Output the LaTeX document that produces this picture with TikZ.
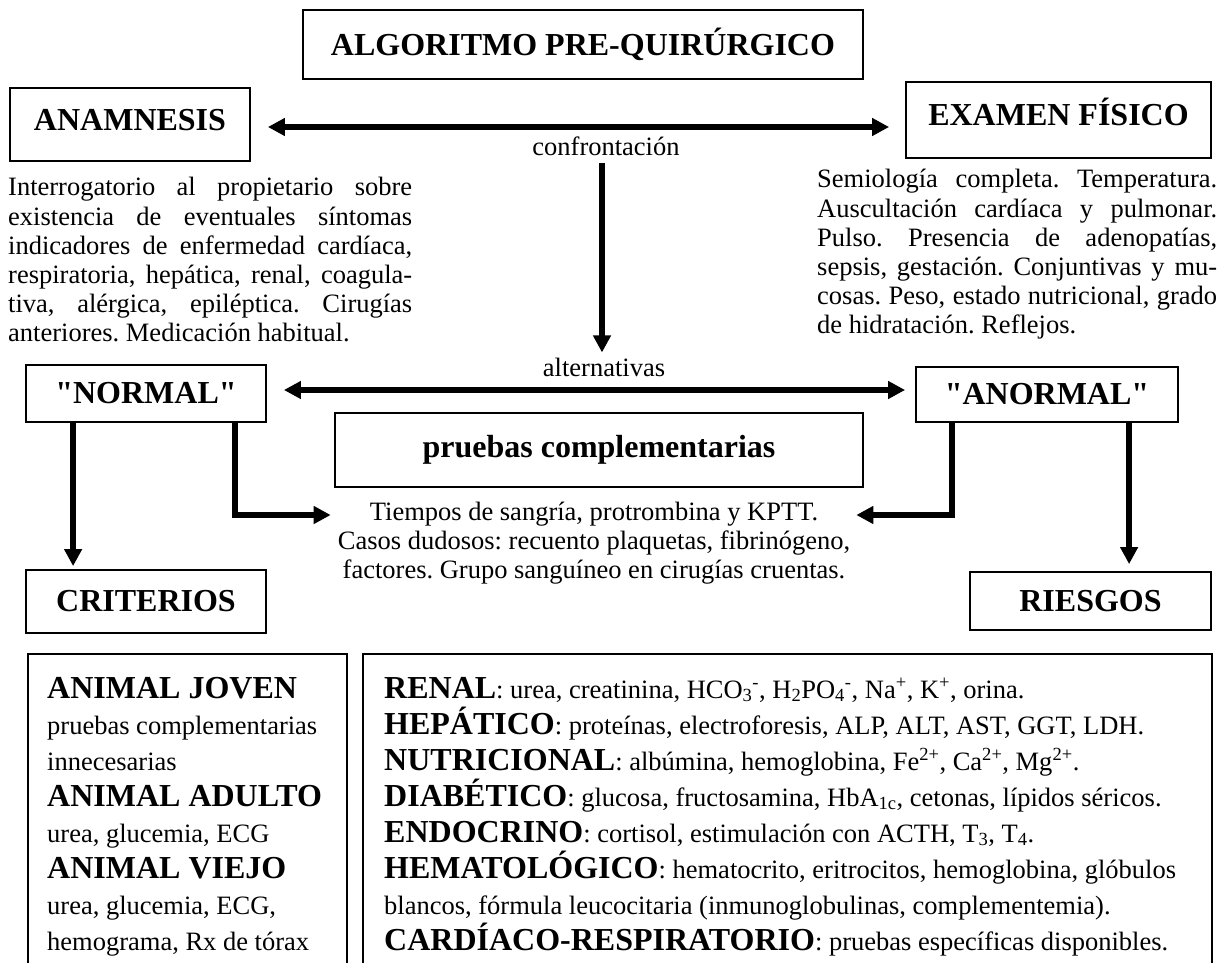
\documentclass[tikz,border=0pt]{standalone}
\usepackage{fontspec}
\setmainfont{Liberation Serif}
\usetikzlibrary{arrows.meta,calc}
\newcommand\hdg[1]{{\fontsize{32}{36}\selectfont\bfseries #1}}
\begin{document}
\frenchspacing
\begin{tikzpicture}[x=1pt,y=-1pt,
  box/.style={draw=black,line width=1.8pt,inner sep=0pt,font=\fontsize{32}{36}\selectfont\bfseries},
  frame/.style={draw=black,line width=1.8pt,inner sep=0pt,anchor=north west},
  body/.style={inner sep=0pt,font=\fontsize{26.5}{29}\selectfont},
  ln/.style={inner sep=0pt,anchor=base west,font=\fontsize{26.5}{29}\selectfont},
  hd/.style={inner sep=0pt,anchor=base west,font=\fontsize{32}{36}\selectfont\bfseries},
  arr/.style={line width=5.5pt,-{Triangle[length=17pt,width=17pt]}},
  darr/.style={line width=5.5pt,{Triangle[length=17pt,width=17pt]}-{Triangle[length=17pt,width=17pt]}},
]
\useasboundingbox (0,0) rectangle (1224,963);

% top boxes
\node[box,minimum width=560pt,minimum height=69pt] (title) at (583,44.5) {ALGORITMO PRE-QUIRÚRGICO};
\node[box,minimum width=240pt,minimum height=73pt,text depth=10pt] (anam) at (130,124.5) {ANAMNESIS};
\node[box,minimum width=305pt,minimum height=76pt,text depth=16pt] (exam) at (1058.5,120) {EXAMEN FÍSICO};

\node[body] (conf) at (606,146) {confrontación};
\node[body] (alt) at (604,367) {alternativas};

\draw[darr] ($(anam.east)+(17,2.5)$) -- ($(exam.west)+(-16,7)$);
\draw[arr] ($(conf.south)+(-4,7)$) -- ($(alt.north)+(-2,-5)$);

% left paragraph
\node[ln] (a1) at (8,196) {\makebox[404pt][s]{Interrogatorio al propietario sobre}};
\node[ln] (a2) at (8,225) {\makebox[404pt][s]{existencia de eventuales síntomas}};
\node[ln] (a3) at (8,254) {\makebox[404pt][s]{indicadores de enfermedad cardíaca,}};
\node[ln] (a4) at (8,283) {\makebox[404pt][s]{respiratoria, hepática, renal, coagula-}};
\node[ln] (a5) at (8,312) {\makebox[404pt][s]{tiva, alérgica, epiléptica. Cirugías}};
\node[ln] (a6) at (8,341) {anteriores. Medicación habitual.};

% right paragraph
\node[ln] (e1) at (817,188) {\makebox[400pt][s]{Semiología completa. Temperatura.}};
\node[ln] (e2) at (817,217) {\makebox[400pt][s]{Auscultación cardíaca y pulmonar.}};
\node[ln] (e3) at (817,246) {\makebox[400pt][s]{Pulso. Presencia de adenopatías,}};
\node[ln] (e4) at (817,275) {\makebox[400pt][s]{sepsis, gestación. Conjuntivas y mu-}};
\node[ln] (e5) at (817,304) {\makebox[400pt][s]{cosas. Peso, estado nutricional, grado}};
\node[ln] (e6) at (817,333) {de hidratación. Reflejos.};

% middle
\node[box,minimum width=240pt,minimum height=57pt] (normal) at (146,393.5) {\textquotedbl NORMAL\textquotedbl};
\node[box,minimum width=262pt,minimum height=55pt] (anormal) at (1047,394.5) {\textquotedbl ANORMAL\textquotedbl};
\draw[darr] ($(normal.east)+(17,-3.5)$) -- ($(anormal.west)+(-10,-4.5)$);

\node[box,minimum width=528pt,minimum height=74pt] (pruebas) at (599,450) {pruebas complementarias};

\node[body,anchor=north,align=center] (tiempos) at (594,502)
  {Tiempos de sangría, protrombina y KPTT.\\
   Casos dudosos: recuento plaquetas, fibrinógeno,\\
   factores. Grupo sanguíneo en cirugías cruentas.};

\node[box,minimum width=240pt,minimum height=63pt] (crit) at (146,601.5) {CRITERIOS};
\node[box,minimum width=241pt,minimum height=58pt] (ries) at (1090.5,601) {RIESGOS};

\draw[arr] ($(normal.south west)+(48,0)$) -- ($(crit.north west)+(48,-3)$);
\draw[arr] ($(normal.south east)+(-32,0)$) |- ($(tiempos.north west)+(-7,13)$);
\draw[arr] ($(anormal.south west)+(37,0)$) |- ($(tiempos.north east)+(6,13)$);
\draw[arr] ($(anormal.south west)+(214,0)$) -- ($(ries.north west)+(160,-7)$);

% bottom frames
\node[frame,minimum width=319pt,minimum height=330pt] (critbox) at (27,653) {};
\node[frame,minimum width=849pt,minimum height=330pt] (riesbox) at (362,653) {};

\node[hd] (c1) at (47,698) {ANIMAL JOVEN};
\node[ln] (c2) at (47,734) {pruebas complementarias};
\node[ln] (c3) at (47,770) {innecesarias};
\node[hd] (c4) at (47,806) {ANIMAL ADULTO};
\node[ln] (c5) at (47,842) {urea, glucemia, ECG};
\node[hd] (c6) at (47,878) {ANIMAL VIEJO};
\node[ln] (c7) at (47,914) {urea, glucemia, ECG,};
\node[ln] (c8) at (47,950) {hemograma, Rx de tórax};

\node[ln] (r1) at (384,698) {\hdg{RENAL}: urea, creatinina, HCO\textsubscript{3}\textsuperscript{-}, H\textsubscript{2}PO\textsubscript{4}\textsuperscript{-}, Na\textsuperscript{+}, K\textsuperscript{+}, orina.};
\node[ln] (r2) at (384,734) {\hdg{HEPÁTICO}: proteínas, electroforesis, ALP, ALT, AST, GGT, LDH.};
\node[ln] (r3) at (384,770) {\hdg{NUTRICIONAL}: albúmina, hemoglobina, Fe\textsuperscript{2+}, Ca\textsuperscript{2+}, Mg\textsuperscript{2+}.};
\node[ln] (r4) at (384,806) {\hdg{DIABÉTICO}: glucosa, fructosamina, HbA\textsubscript{1c}, cetonas, lípidos séricos.};
\node[ln] (r5) at (384,842) {\hdg{ENDOCRINO}: cortisol, estimulación con ACTH, T\textsubscript{3}, T\textsubscript{4}.};
\node[ln] (r6) at (384,878) {\hdg{HEMATOLÓGICO}: hematocrito, eritrocitos, hemoglobina, glóbulos};
\node[ln] (r7) at (384,914) {blancos, fórmula leucocitaria (inmunoglobulinas, complementemia).};
\node[ln] (r8) at (384,950) {\hdg{CARDÍACO-RESPIRATORIO}: pruebas específicas disponibles.};
\end{tikzpicture}
\end{document}
